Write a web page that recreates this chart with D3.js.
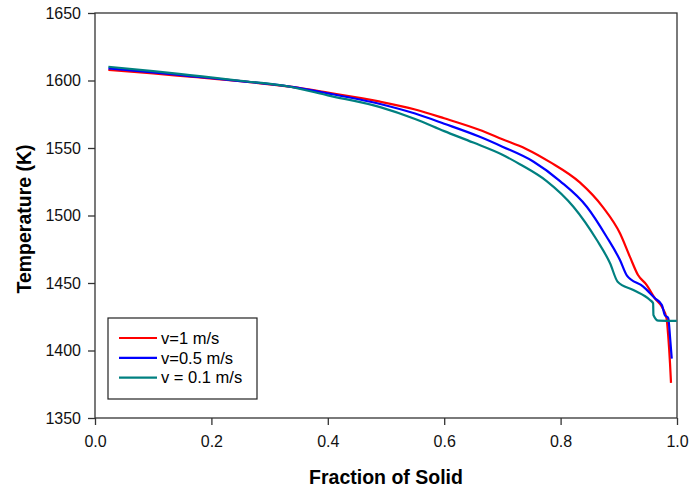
<!DOCTYPE html>
<html>
<head>
<meta charset="utf-8">
<script src="https://cdn.jsdelivr.net/npm/d3@7"></script>
<style>
  body { margin: 0; background: #fff; }
  svg { font-family: Arial, "Liberation Sans", sans-serif; }
</style>
</head>
<body>
<svg id="chart" width="690" height="488"></svg>
<script>
// fraction of solid vs temperature
const redFs   = [0.023, 0.1, 0.163, 0.25, 0.335, 0.4, 0.49, 0.55, 0.6, 0.66, 0.7, 0.74, 0.782, 0.833, 0.873, 0.902, 0.919, 0.933, 0.948, 0.962, 0.974, 0.982, 0.985, 0.988, 0.9897]
const redT    = [1607.8, 1605.2, 1602.8, 1599.5, 1595.4, 1591, 1584.3, 1578.5, 1572, 1563.5, 1556.5, 1549.5, 1539.5, 1524.5, 1506, 1486.8, 1469.5, 1455.9, 1448.5, 1438.7, 1432.4, 1423.9, 1410.2, 1390.5, 1376]

const blueFs  = [0.023, 0.1, 0.163, 0.25, 0.335, 0.4, 0.49, 0.55, 0.6, 0.66, 0.7, 0.753, 0.799, 0.845, 0.879, 0.902, 0.914, 0.942, 0.962, 0.974, 0.979, 0.985, 0.988, 0.991]
const blueT   = [1609, 1606, 1603.3, 1599.6, 1595.4, 1590.5, 1582.6, 1575.5, 1568, 1558.5, 1551, 1540, 1525.5, 1506.5, 1484.3, 1467, 1455.5, 1447.3, 1438.7, 1433.7, 1426.3, 1423.9, 1410.2, 1394]

const tealFs  = [0.023, 0.1, 0.163, 0.25, 0.335, 0.4, 0.49, 0.55, 0.6, 0.65, 0.7, 0.73, 0.776, 0.822, 0.862, 0.885, 0.898, 0.925, 0.9536, 0.959, 0.9595, 0.968, 0.9995]
const tealT   = [1610.2, 1607, 1604, 1599.8, 1595.4, 1589, 1580.3, 1571.5, 1562.5, 1554, 1545, 1538, 1525.5, 1506.5, 1482, 1464.6, 1451, 1444.8, 1437.4, 1435, 1426.3, 1422.1, 1421.9]

const seriesNames  = ['v=1 m/s', 'v=0.5 m/s', 'v = 0.1 m/s']
const seriesColors = ['#ff0000', '#0000ff', '#008080']
const xTicks = [0, 0.2, 0.4, 0.6, 0.8, 1.0]
const yTicks = [1350, 1400, 1450, 1500, 1550, 1600, 1650]

const series = [
  { name: seriesNames[0], color: seriesColors[0], pts: redFs.map((f, i) => [f, redT[i]]) },
  { name: seriesNames[1], color: seriesColors[1], pts: blueFs.map((f, i) => [f, blueT[i]]) },
  { name: seriesNames[2], color: seriesColors[2], pts: tealFs.map((f, i) => [f, tealT[i]]) }
]

const svg = d3.select('#chart')
const plotL = 95, plotR = 677, plotT = 13, plotB = 418

const x = d3.scaleLinear().domain([0, 1]).range([plotL, plotR])
const y = d3.scaleLinear().domain([1350, 1650]).range([plotB, plotT])

// frame
svg.append('rect')
  .attr('x', plotL).attr('y', plotT)
  .attr('width', plotR - plotL).attr('height', plotB - plotT)
  .attr('fill', 'none').attr('stroke', '#333').attr('stroke-width', 1.3)

const xAxis = svg.append('g')
  .attr('transform', `translate(0,${plotB})`)
  .call(d3.axisBottom(x).tickValues(xTicks).tickFormat(d3.format('.1f')).tickSize(7).tickPadding(11))

const yAxis = svg.append('g')
  .attr('transform', `translate(${plotL},0)`)
  .call(d3.axisLeft(y).tickValues(yTicks).tickFormat(d3.format('d')).tickSize(7).tickPadding(7))

;[xAxis, yAxis].forEach(g => {
  g.select('.domain').remove()
  g.selectAll('line').attr('stroke', '#333').attr('stroke-width', 1.3)
  g.selectAll('text').attr('font-size', 16).attr('fill', '#111')
    .style('font-family', 'Arial, "Liberation Sans", sans-serif')
})

const line = d3.line()
  .x(d => x(d[0]))
  .y(d => y(d[1]))
  .curve(d3.curveMonotoneX)

svg.selectAll('path.series')
  .data(series)
  .enter()
  .append('path')
  .attr('class', 'series')
  .attr('d', d => line(d.pts))
  .attr('fill', 'none')
  .attr('stroke', d => d.color)
  .attr('stroke-width', 2.2)

// axis titles
svg.append('text')
  .attr('x', (plotL + plotR) / 2).attr('y', 484)
  .attr('text-anchor', 'middle')
  .attr('font-size', 19.5).attr('font-weight', 'bold')
  .text('Fraction of Solid')

svg.append('text')
  .attr('transform', `translate(31,${219}) rotate(-90)`)
  .attr('text-anchor', 'middle')
  .attr('font-size', 19.5).attr('font-weight', 'bold')
  .text('Temperature (K)')

// legend
const legend = svg.append('g')
legend.append('rect')
  .attr('x', 108).attr('y', 318).attr('width', 149).attr('height', 81)
  .attr('fill', '#fff').attr('stroke', '#222').attr('stroke-width', 1.2)

const items = legend.selectAll('g.item')
  .data(series)
  .enter()
  .append('g')
  .attr('transform', (d, i) => `translate(0,${338 + i * 19.8})`)

items.append('line')
  .attr('x1', 119).attr('x2', 157)
  .attr('stroke', d => d.color).attr('stroke-width', 2.2)

items.append('text')
  .attr('x', 161).attr('dy', '0.35em')
  .attr('font-size', 16.5)
  .text(d => d.name)
</script>
</body>
</html>
